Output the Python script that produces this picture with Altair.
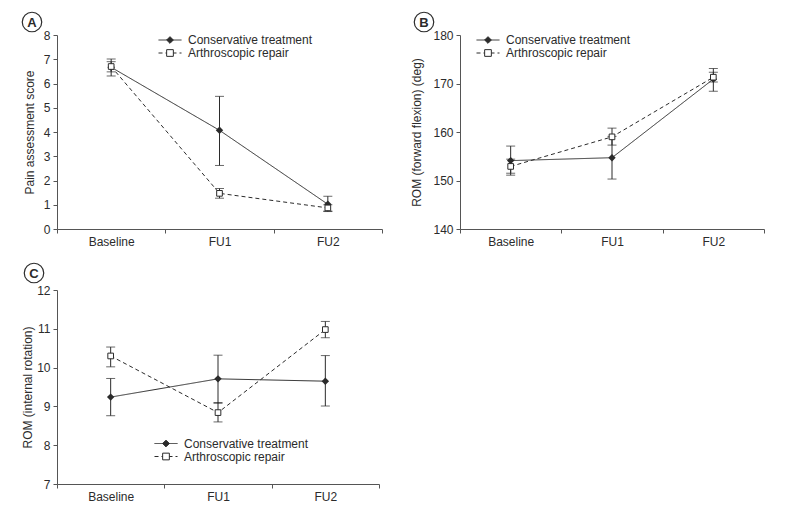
import altair as alt
import pandas as pd

stages = ["Baseline", "FU1", "FU2"]
groups = ["Conservative treatment", "Arthroscopic repair"]

# Panel A: pain assessment score
pain_cons = [6.67, 4.07, 1.02]
pain_cons_lo = [6.31, 2.62, 0.72]
pain_cons_hi = [7.01, 5.47, 1.35]
pain_arth = [6.70, 1.47, 0.87]
pain_arth_lo = [6.48, 1.27, 0.74]
pain_arth_hi = [6.90, 1.67, 1.00]

# Panel B: ROM forward flexion (deg)
flex_cons = [154.1, 154.7, 170.9]
flex_cons_lo = [151.1, 150.3, 168.4]
flex_cons_hi = [157.1, 159.1, 173.1]
flex_arth = [152.9, 159.0, 171.3]
flex_arth_lo = [151.5, 157.3, 170.3]
flex_arth_hi = [154.4, 160.8, 172.3]

# Panel C: ROM internal rotation
rot_cons = [9.24, 9.71, 9.65]
rot_cons_lo = [8.76, 9.08, 9.01]
rot_cons_hi = [9.72, 10.32, 10.31]
rot_arth = [10.30, 8.84, 10.98]
rot_arth_lo = [10.02, 8.60, 10.77]
rot_arth_hi = [10.53, 9.10, 11.19]

FONT = "Liberation Sans"
INK = "#2b2b2b"
AX = "#555555"


def frame(c, clo, chi, a, alo, ahi):
    rows = []
    for i, s in enumerate(stages):
        rows.append(dict(stage=s, group=groups[0], grp=groups[0], v=c[i], lo=clo[i], hi=chi[i]))
        rows.append(dict(stage=s, group=groups[1], grp=groups[1], v=a[i], lo=alo[i], hi=ahi[i]))
    return pd.DataFrame(rows)


def panel(df, letter, ytitle, ydomain, yticks, width, height, leg_xy, tpad, badge_xy):
    xenc = alt.X(
        "stage:N", sort=stages,
        scale=alt.Scale(type="band", paddingInner=0, paddingOuter=0),
        axis=alt.Axis(title=None, tickBand="extent", labelAngle=0, labelPadding=3,
                      tickSize=4),
    )
    yaxis = alt.Axis(title=ytitle, values=yticks, tickSize=4, labelPadding=3,
                     titlePadding=tpad, grid=False)
    yscale = alt.Scale(domain=ydomain, zero=False, nice=False)

    def Y(f):
        return alt.Y(f, scale=yscale, axis=yaxis)

    lx, ly = leg_xy
    base = alt.Chart(df)
    rules = base.mark_rule(color=INK, strokeWidth=1).encode(x=xenc, y=Y("lo:Q"), y2="hi:Q")
    caps_lo = base.mark_tick(color=INK, orient="horizontal", size=9, thickness=1).encode(
        x=xenc, y=Y("lo:Q"))
    caps_hi = base.mark_tick(color=INK, orient="horizontal", size=9, thickness=1).encode(
        x=xenc, y=Y("hi:Q"))
    lines = base.mark_line(color=INK, strokeWidth=1).encode(
        x=xenc, y=Y("v:Q"),
        strokeDash=alt.StrokeDash(
            "group:N", sort=groups, scale=alt.Scale(range=[[1, 0], [4, 3]]),
            legend=alt.Legend(title=None, orient="none", legendX=lx, legendY=ly,
                              symbolType="stroke", symbolSize=529, symbolStrokeColor=INK,
                              symbolStrokeWidth=1, rowPadding=0, clipHeight=13,
                              labelOffset=6, padding=0, labelFont=FONT, labelFontSize=12,
                              labelColor=INK, labelLimit=300)),
    )
    pts_c = base.transform_filter(alt.datum.group == groups[0]).mark_point(
        shape="diamond", size=55, filled=True, color=INK, opacity=1).encode(x=xenc, y=Y("v:Q"))
    pts_a = base.transform_filter(alt.datum.group == groups[1]).mark_point(
        shape="square", size=32, filled=False, fill="white", stroke=INK, strokeWidth=1,
        opacity=1).encode(x=xenc, y=Y("v:Q"))

    fill_expr = "datum.label == '%s' ? '%s' : 'white'" % (groups[0], INK)
    marker_legend = base.mark_point(filled=True, size=0, stroke=INK, strokeWidth=1,
                                    opacity=1).encode(
        shape=alt.Shape("grp:N", sort=groups, scale=alt.Scale(range=["diamond", "square"]),
                        legend=alt.Legend(title=None, orient="none", legendX=lx + 8,
                                          legendY=ly, symbolSize=45,
                                          symbolStrokeColor=INK, symbolStrokeWidth=1,
                                          symbolFillColor={"expr": fill_expr},
                                          rowPadding=0, clipHeight=13, padding=0,
                                          labelFontSize=1, labelOpacity=0, labelOffset=0)),
        fill=alt.Fill("grp:N", sort=groups, scale=alt.Scale(range=[INK, "white"]),
                      legend=None),
    )

    bdf = pd.DataFrame({"t": [letter]})
    circ = alt.Chart(bdf).mark_point(shape="circle", size=380, filled=False, stroke=INK,
                                     strokeWidth=1.2, opacity=1).encode(
        x=alt.value(badge_xy[0]), y=alt.value(badge_xy[1]))
    txt = alt.Chart(bdf).mark_text(font=FONT, fontSize=13, fontWeight="bold", color=INK,
                                   baseline="middle", align="center").encode(
        text="t:N", x=alt.value(badge_xy[0]), y=alt.value(badge_xy[1] + 0.5))

    return alt.layer(rules, caps_lo, caps_hi, lines, pts_c, pts_a, marker_legend, circ, txt).properties(
        width=width, height=height)


pA = panel(frame(pain_cons, pain_cons_lo, pain_cons_hi, pain_arth, pain_arth_lo, pain_arth_hi),
           "A", "Pain assessment score", [0, 8], list(range(0, 9)), 325, 194,
           (101, -1.5), 7, (-25, -13))
pB = panel(frame(flex_cons, flex_cons_lo, flex_cons_hi, flex_arth, flex_arth_lo, flex_arth_hi),
           "B", "ROM (forward flexion) (deg)", [140, 180], [140, 150, 160, 170, 180], 304, 194,
           (16, -1.5), 9, (-36, -13))
pC = panel(frame(rot_cons, rot_cons_lo, rot_cons_hi, rot_arth, rot_arth_lo, rot_arth_hi),
           "C", "ROM (internal rotation)", [7, 12], list(range(7, 13)), 322, 194,
           (97, 147), 2, (-23, -17))

chart = alt.concat(pA, pB, pC, columns=2, spacing={"row": 13, "column": 27}).resolve_scale(
    shape="independent", fill="independent", strokeDash="independent",
    x="independent", y="independent",
).resolve_legend(shape="independent", fill="independent", strokeDash="independent").properties(
    padding={"left": 11, "top": 1, "right": 5, "bottom": 5}, background="white"
).configure_view(stroke=None).configure_axis(
    labelFont=FONT, titleFont=FONT, labelFontSize=12, titleFontSize=12,
    labelColor=INK, titleColor=INK, titleFontWeight="normal",
    domainColor=AX, tickColor=AX, domainWidth=1, tickWidth=1,
)

chart.save("out.html", embed_options={"renderer": "svg", "actions": False})
